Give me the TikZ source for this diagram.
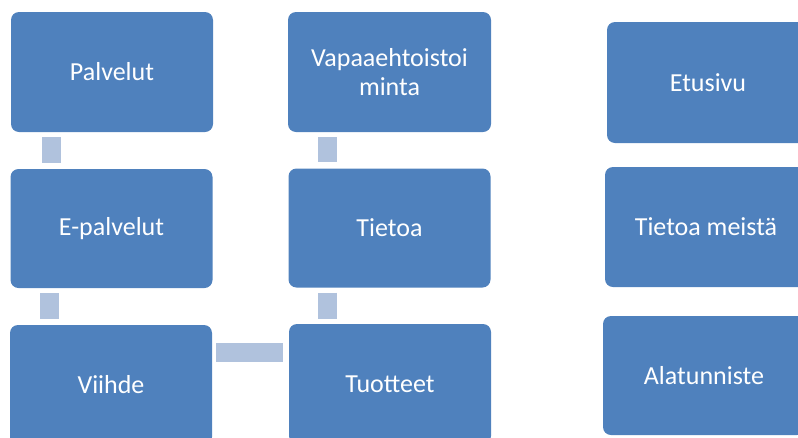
\documentclass[tikz,border=0pt]{standalone}
\usepackage{fontspec}
\setmainfont{Carlito}
\definecolor{boxblue}{HTML}{4F81BD}
\definecolor{connblue}{HTML}{B0C2DD}
\begin{document}
\begin{tikzpicture}[x=1pt,y={(0pt,-1pt)},
  pagebox/.style={rectangle,rounded corners=8pt,fill=boxblue,draw=none,inner sep=0pt,
    minimum width=202pt,minimum height=120pt,text=white,align=center,
    font=\fontsize{26}{29}\selectfont},
  conn/.style={draw=connblue,line width=19pt},
]
\useasboundingbox (0,0) rectangle (798,437);
\clip (0,0) rectangle (798,437);
\node[pagebox] (palvelut) at (112,72) {Palvelut};
\node[pagebox,minimum height=119pt] (epalvelut) at (111.5,228.5) {E-palvelut};
\node[pagebox] (viihde) at (111,385) {Viihde};
\node[pagebox,minimum width=203pt] (vapaa) at (389.5,72) {Vapaaehtoistoi\\minta};
\node[pagebox,minimum height=119pt] (tietoa) at (389.5,228) {Tietoa};
\node[pagebox] (tuotteet) at (390,384) {Tuotteet};
\node[pagebox,minimum height=121pt] (etusivu) at (708,82.5) {Etusivu};
\node[pagebox] (meista) at (706,227) {Tietoa meistä};
\node[pagebox,minimum height=119pt] (alatunniste) at (704,375.5) {Alatunniste};
\draw[conn,shorten <=5pt,shorten >=6pt] ([xshift=40.5pt]palvelut.south west) -- ([xshift=41pt]epalvelut.north west);
\draw[conn,shorten <=5pt,shorten >=6pt] ([xshift=39pt]epalvelut.south west) -- ([xshift=39.5pt]viihde.north west);
\draw[conn,shorten <=5pt,shorten >=6pt] ([xshift=39.5pt]vapaa.south west) -- ([xshift=39pt]tietoa.north west);
\draw[conn,shorten <=5pt,shorten >=5pt] ([xshift=39pt]tietoa.south west) -- ([xshift=38.5pt]tuotteet.north west);
\draw[conn,shorten <=4pt,shorten >=6pt] ([yshift=-27.5pt]viihde.north east) -- ([yshift=-28.5pt]tuotteet.north west);
\end{tikzpicture}
\end{document}
